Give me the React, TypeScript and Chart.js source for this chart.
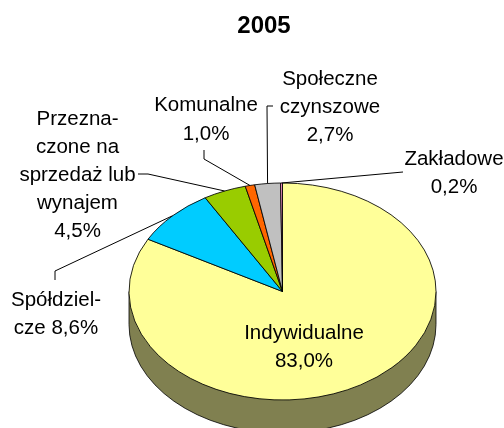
import React, { useEffect, useRef } from "react";
import { Chart, registerables } from "chart.js";

Chart.register(...registerables);

const chartTitle = "2005";
const categories = ["Indywidualne", "Spółdzielcze", "Przeznaczone na sprzedaż lub wynajem", "Komunalne", "Społeczne czynszowe", "Zakładowe"];
const shares = [83.0, 8.6, 4.5, 1.0, 2.7, 0.2];
const sliceColors = ["#FFFF99", "#00CCFF", "#99CC00", "#FF6600", "#C0C0C0", "#FF99CC"];
const labelLines = [
  ["Indywidualne", "83,0%"],
  ["Spółdziel-", "cze 8,6%"],
  ["Przezna-", "czone na", "sprzedaż lub", "wynajem", "4,5%"],
  ["Komunalne", "1,0%"],
  ["Społeczne", "czynszowe", "2,7%"],
  ["Zakładowe", "0,2%"],
];
const labelCenterX = [304, 56, 77.5, 206, 330, 454];
const labelFirstY = [333, 300.5, 119, 105, 79, 159];
const labelLineGap = [28, 28, 28, 29, 28, 28];
// leader polylines, from the label towards the slice (slice end is computed from the arc)
const leaders: (number[][] | null)[] = [
  null,
  [[55, 280], [55, 271]],
  [[138, 174], [148, 174]],
  [[204, 150], [204, 159]],
  [[273, 106], [267, 106]],
  [[403, 172]],
];

const PIE_CY = 291.5;
const PIE_RY = 108.5;
const DEPTH = 33;

const pie3d = {
  id: "pie3d",
  beforeDatasetsDraw(chart: any) {
    const { ctx, chartArea } = chart;
    const arc = chart.getDatasetMeta(0).data[0];
    const rx = arc.outerRadius;
    const cx = arc.x;
    ctx.save();
    ctx.beginPath();
    ctx.moveTo(cx - rx, PIE_CY);
    ctx.lineTo(cx - rx, PIE_CY + DEPTH);
    ctx.ellipse(cx, PIE_CY + DEPTH, rx, PIE_RY, 0, Math.PI, 0, true);
    ctx.lineTo(cx + rx, PIE_CY);
    ctx.closePath();
    ctx.fillStyle = "#808050";
    ctx.fill();
    ctx.strokeStyle = "#000";
    ctx.lineWidth = 0.8;
    ctx.stroke();
    ctx.restore();
    ctx.save();
    const midY = (chartArea.top + chartArea.bottom) / 2;
    ctx.translate(0, PIE_CY);
    ctx.scale(1, PIE_RY / rx);
    ctx.translate(0, -midY);
  },
  afterDatasetsDraw(chart: any) {
    const { ctx } = chart;
    ctx.restore();
    const meta = chart.getDatasetMeta(0);
    ctx.save();
    ctx.strokeStyle = "#000";
    ctx.lineWidth = 1;
    leaders.forEach((pts, i) => {
      if (!pts) return;
      const el = meta.data[i];
      const mid = (el.startAngle + el.endAngle) / 2;
      const ex = el.x + el.outerRadius * Math.cos(mid);
      const ey = PIE_CY + PIE_RY * Math.sin(mid);
      ctx.beginPath();
      pts.forEach((p, k) => (k ? ctx.lineTo(p[0], p[1]) : ctx.moveTo(p[0], p[1])));
      ctx.lineTo(ex, ey);
      ctx.stroke();
    });
    ctx.fillStyle = "#000";
    ctx.textAlign = "center";
    ctx.textBaseline = "middle";
    ctx.font = "20.5px 'Liberation Sans'";
    labelLines.forEach((lines, i) => {
      lines.forEach((t, k) => ctx.fillText(t, labelCenterX[i], labelFirstY[i] + k * labelLineGap[i]));
    });
    ctx.font = "bold 24px 'Liberation Sans'";
    ctx.fillText(chartTitle, 264, 26);
    ctx.restore();
  },
};

export default function App() {
  const ref = useRef<HTMLCanvasElement>(null);
  useEffect(() => {
    const chart = new Chart(ref.current!, {
      type: "pie",
      data: {
        labels: categories,
        datasets: [{ data: shares, backgroundColor: sliceColors, borderColor: "#000", borderWidth: 1, clip: false } as any],
      },
      options: {
        responsive: false,
        animation: false,
        layout: { padding: { left: 128.5, right: 67.5, top: 0, bottom: 120 } },
        plugins: { legend: { display: false }, title: { display: false }, tooltip: { enabled: false } },
      },
      plugins: [pie3d],
    });
    return () => chart.destroy();
  }, []);
  return (
    <canvas
      ref={ref}
      width={504}
      height={428}
      style={{ position: "fixed", left: 0, top: 0, width: 504, height: 428, background: "#fff" }}
    />
  );
}
